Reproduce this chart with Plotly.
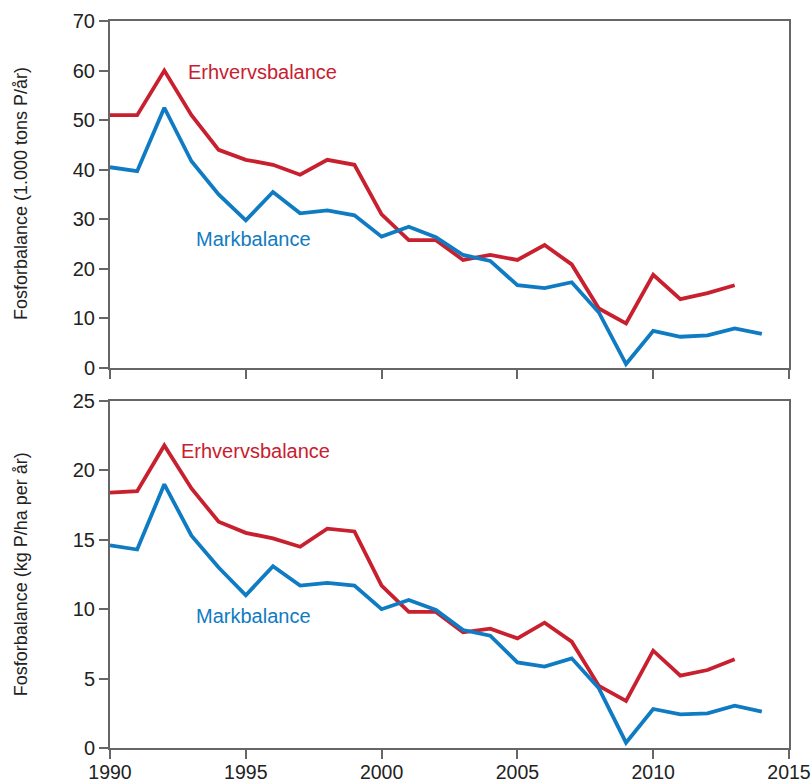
import plotly.graph_objects as go
from plotly.subplots import make_subplots

years = list(range(1990, 2015))
years_erh = list(range(1990, 2014))

erhverv_tons = [51, 51, 60, 51, 44, 42, 41, 39, 42, 41, 31, 25.8, 25.8, 21.8, 22.8, 21.8,
                24.8, 20.9, 12.0, 9.0, 18.8, 13.9, 15.1, 16.7]
mark_tons = [40.5, 39.7, 52.5, 41.7, 35, 29.8, 35.5, 31.2, 31.8, 30.8, 26.5, 28.5, 26.4,
             22.8, 21.6, 16.7, 16.1, 17.3, 11.2, 0.8, 7.5, 6.3, 6.6, 8.0, 6.9]
erhverv_ha = [18.4, 18.5, 21.8, 18.7, 16.3, 15.5, 15.1, 14.5, 15.8, 15.6, 11.7, 9.8, 9.8,
              8.33, 8.6, 7.9, 9.03, 7.66, 4.47, 3.39, 7.01, 5.21, 5.62, 6.39]
mark_ha = [14.6, 14.3, 19.0, 15.3, 13.0, 11.0, 13.1, 11.7, 11.9, 11.7, 10.0, 10.66, 9.94,
           8.5, 8.09, 6.17, 5.86, 6.46, 4.3, 0.38, 2.81, 2.42, 2.5, 3.05, 2.62]

x_ticks = [1990, 1995, 2000, 2005, 2010, 2015]
top_yticks = [0, 10, 20, 30, 40, 50, 60, 70]
bot_yticks = [0, 5, 10, 15, 20, 25]

RED = "#c8202f"
BLUE = "#0f7bc2"
AX = "#666666"
TXT = "#222222"
FONT = "Liberation Sans, Arial, sans-serif"

fig = make_subplots(rows=2, cols=1, vertical_spacing=0.0454)
fig.update_yaxes(domain=[0.5227, 1.0], row=1, col=1)
fig.update_yaxes(domain=[0.0, 0.4773], row=2, col=1)

fig.add_trace(go.Scatter(x=years_erh, y=erhverv_tons, mode="lines",
                         line=dict(color=RED, width=3.8)), row=1, col=1)
fig.add_trace(go.Scatter(x=years, y=mark_tons, mode="lines",
                         line=dict(color=BLUE, width=3.8)), row=1, col=1)
fig.add_trace(go.Scatter(x=years_erh, y=erhverv_ha, mode="lines",
                         line=dict(color=RED, width=3.8)), row=2, col=1)
fig.add_trace(go.Scatter(x=years, y=mark_ha, mode="lines",
                         line=dict(color=BLUE, width=3.8)), row=2, col=1)

axis_common = dict(showline=True, linecolor=AX, linewidth=2, mirror=True,
                   ticks="outside", ticklen=9, tickwidth=1.5, tickcolor=AX,
                   showgrid=False, zeroline=False, automargin=False,
                   tickfont=dict(family=FONT, size=20, color=TXT))

fig.update_xaxes(range=[1990, 2015], tickvals=x_ticks, **axis_common)
fig.update_xaxes(showticklabels=False, row=1, col=1)
fig.update_xaxes(ticktext=[str(v) for v in x_ticks], row=2, col=1,
                 tickfont=dict(family=FONT, size=19.5, color=TXT),
                 ticklabelstandoff=-3, ticklabeloverflow="allow")

fig.update_yaxes(**axis_common)
fig.update_yaxes(range=[0, 70], tickvals=top_yticks, row=1, col=1)
fig.update_yaxes(range=[0, 25], tickvals=bot_yticks, row=2, col=1)

title_font = dict(family=FONT, size=18, color=TXT)
fig.add_annotation(x=-0.131, y=0.762, xref="paper", yref="paper", textangle=-90,
                   text="Fosforbalance (1.000 tons P/år)", showarrow=False,
                   xanchor="center", yanchor="middle", font=title_font)
fig.add_annotation(x=-0.131, y=0.239, xref="paper", yref="paper", textangle=-90,
                   text="Fosforbalance (kg P/ha per år)", showarrow=False,
                   xanchor="center", yanchor="middle", font=title_font)

ann_font = dict(family=FONT, size=20)
fig.add_annotation(x=1995.63, y=59.7, xref="x", yref="y", text="Erhvervsbalance",
                   showarrow=False, font=dict(color=RED, **ann_font))
fig.add_annotation(x=1995.3, y=26.0, xref="x", yref="y", text="Markbalance",
                   showarrow=False, font=dict(color=BLUE, **ann_font))
fig.add_annotation(x=1995.36, y=21.4, xref="x2", yref="y2", text="Erhvervsbalance",
                   showarrow=False, font=dict(color=RED, **ann_font))
fig.add_annotation(x=1995.3, y=9.5, xref="x2", yref="y2", text="Markbalance",
                   showarrow=False, font=dict(color=BLUE, **ann_font))

fig.update_layout(width=811, height=784, showlegend=False,
                  margin=dict(l=110, r=22, t=21, b=36),
                  paper_bgcolor="white", plot_bgcolor="white",
                  font=dict(family=FONT))

# remove the default 8px page margin so the figure fills the window exactly
fig.write_html("out.html",
               config={"displayModeBar": False},
               post_script="document.body.style.margin='0';document.body.style.overflow='hidden';")
